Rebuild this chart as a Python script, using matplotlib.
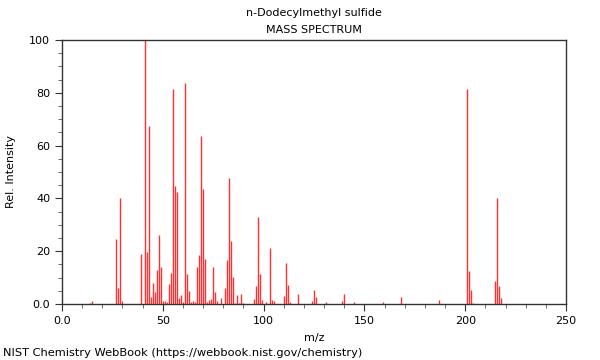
import matplotlib
matplotlib.use("Agg")
import matplotlib.pyplot as plt
from matplotlib.ticker import MultipleLocator, FuncFormatter

# spectrum peaks (m/z, relative intensity)
mz = [14, 15, 27, 28, 29, 30, 39, 41, 42, 43, 44, 45, 46, 47, 48, 49, 50, 51, 52,
      53, 54, 55, 56, 57, 58, 59, 60, 61, 62, 63, 64, 65, 66, 67, 68, 69, 70, 71,
      72, 73, 74, 75, 76, 77, 79, 81, 82, 83, 84, 85, 86, 87, 88, 89, 90,
      95, 96, 97, 98, 99, 101, 103, 104, 105, 110, 111, 112, 113, 117,
      124, 125, 126, 131, 139, 140, 145, 159, 168, 187,
      201, 202, 203, 204, 215, 216, 217, 218]
intensity = [0.5, 1.3, 24.5, 6.2, 40.2, 1.3, 18.8, 100, 19.8, 67.4, 2.8, 7.8, 4.5, 12.8, 26.2, 14.1, 1.2, 1.2, 0.6,
             7.6, 11.6, 81.3, 44.7, 42.5, 2.4, 3.4, 0.8, 83.8, 11.4, 5.0, 0.6, 1.2, 0.6, 14.1, 18.6, 63.8, 43.5, 17.2,
             0.8, 1.5, 2.0, 13.9, 4.5, 1.2, 2.3, 6.0, 16.7, 47.8, 23.8, 10.2, 0.5, 3.3, 0.5, 3.8, 0.5,
             1.9, 6.8, 32.8, 11.5, 1.5, 0.8, 21.2, 1.6, 1.3, 2.9, 15.5, 7.2, 0.8, 3.8,
             1.2, 5.3, 2.8, 0.8, 1.0, 3.9, 0.6, 0.6, 2.8, 1.5,
             81.3, 12.5, 5.2, 0.5, 8.6, 40.2, 6.8, 2.1]

fig = plt.figure(figsize=(6, 3.6), dpi=100)
ax = fig.add_axes([62 / 600, 1 - 304 / 360, 504 / 600, 264 / 360])

ax.vlines(mz, 0, intensity, colors="#ff3030", linewidth=1.0)

ax.set_xlim(0, 250)
ax.set_ylim(0, 100)
ax.xaxis.set_major_locator(MultipleLocator(50))
ax.xaxis.set_minor_locator(MultipleLocator(10))
ax.yaxis.set_major_locator(MultipleLocator(20))
ax.yaxis.set_minor_locator(MultipleLocator(5))
fmt = FuncFormatter(lambda v, p: "0.0" if v == 0 else f"{v:g}")
ax.xaxis.set_major_formatter(fmt)
ax.yaxis.set_major_formatter(fmt)
ax.tick_params(which="major", length=5, width=0.8, labelsize=8, color="#333333")
ax.tick_params(which="minor", length=3, width=0.6, color="#555555")
for s in ax.spines.values():
    s.set_color("#333333")
    s.set_linewidth(1.0)

ax.set_xlabel("m/z", fontsize=8)
ax.set_ylabel("Rel. Intensity", fontsize=8)
ax.yaxis.set_label_coords(-46 / 504, 0.5)
ax.xaxis.set_label_coords(0.5, -29 / 264)

fig.text(314 / 600, 1 - 13 / 360, "n-Dodecylmethyl sulfide", ha="center", va="center", fontsize=8)
fig.text(314 / 600, 1 - 30 / 360, "MASS SPECTRUM", ha="center", va="center", fontsize=8)
fig.text(3 / 600, 1 - 353 / 360, "NIST Chemistry WebBook (https://webbook.nist.gov/chemistry)",
         ha="left", va="center", fontsize=8.2)

fig.savefig("out.png", dpi=100)
